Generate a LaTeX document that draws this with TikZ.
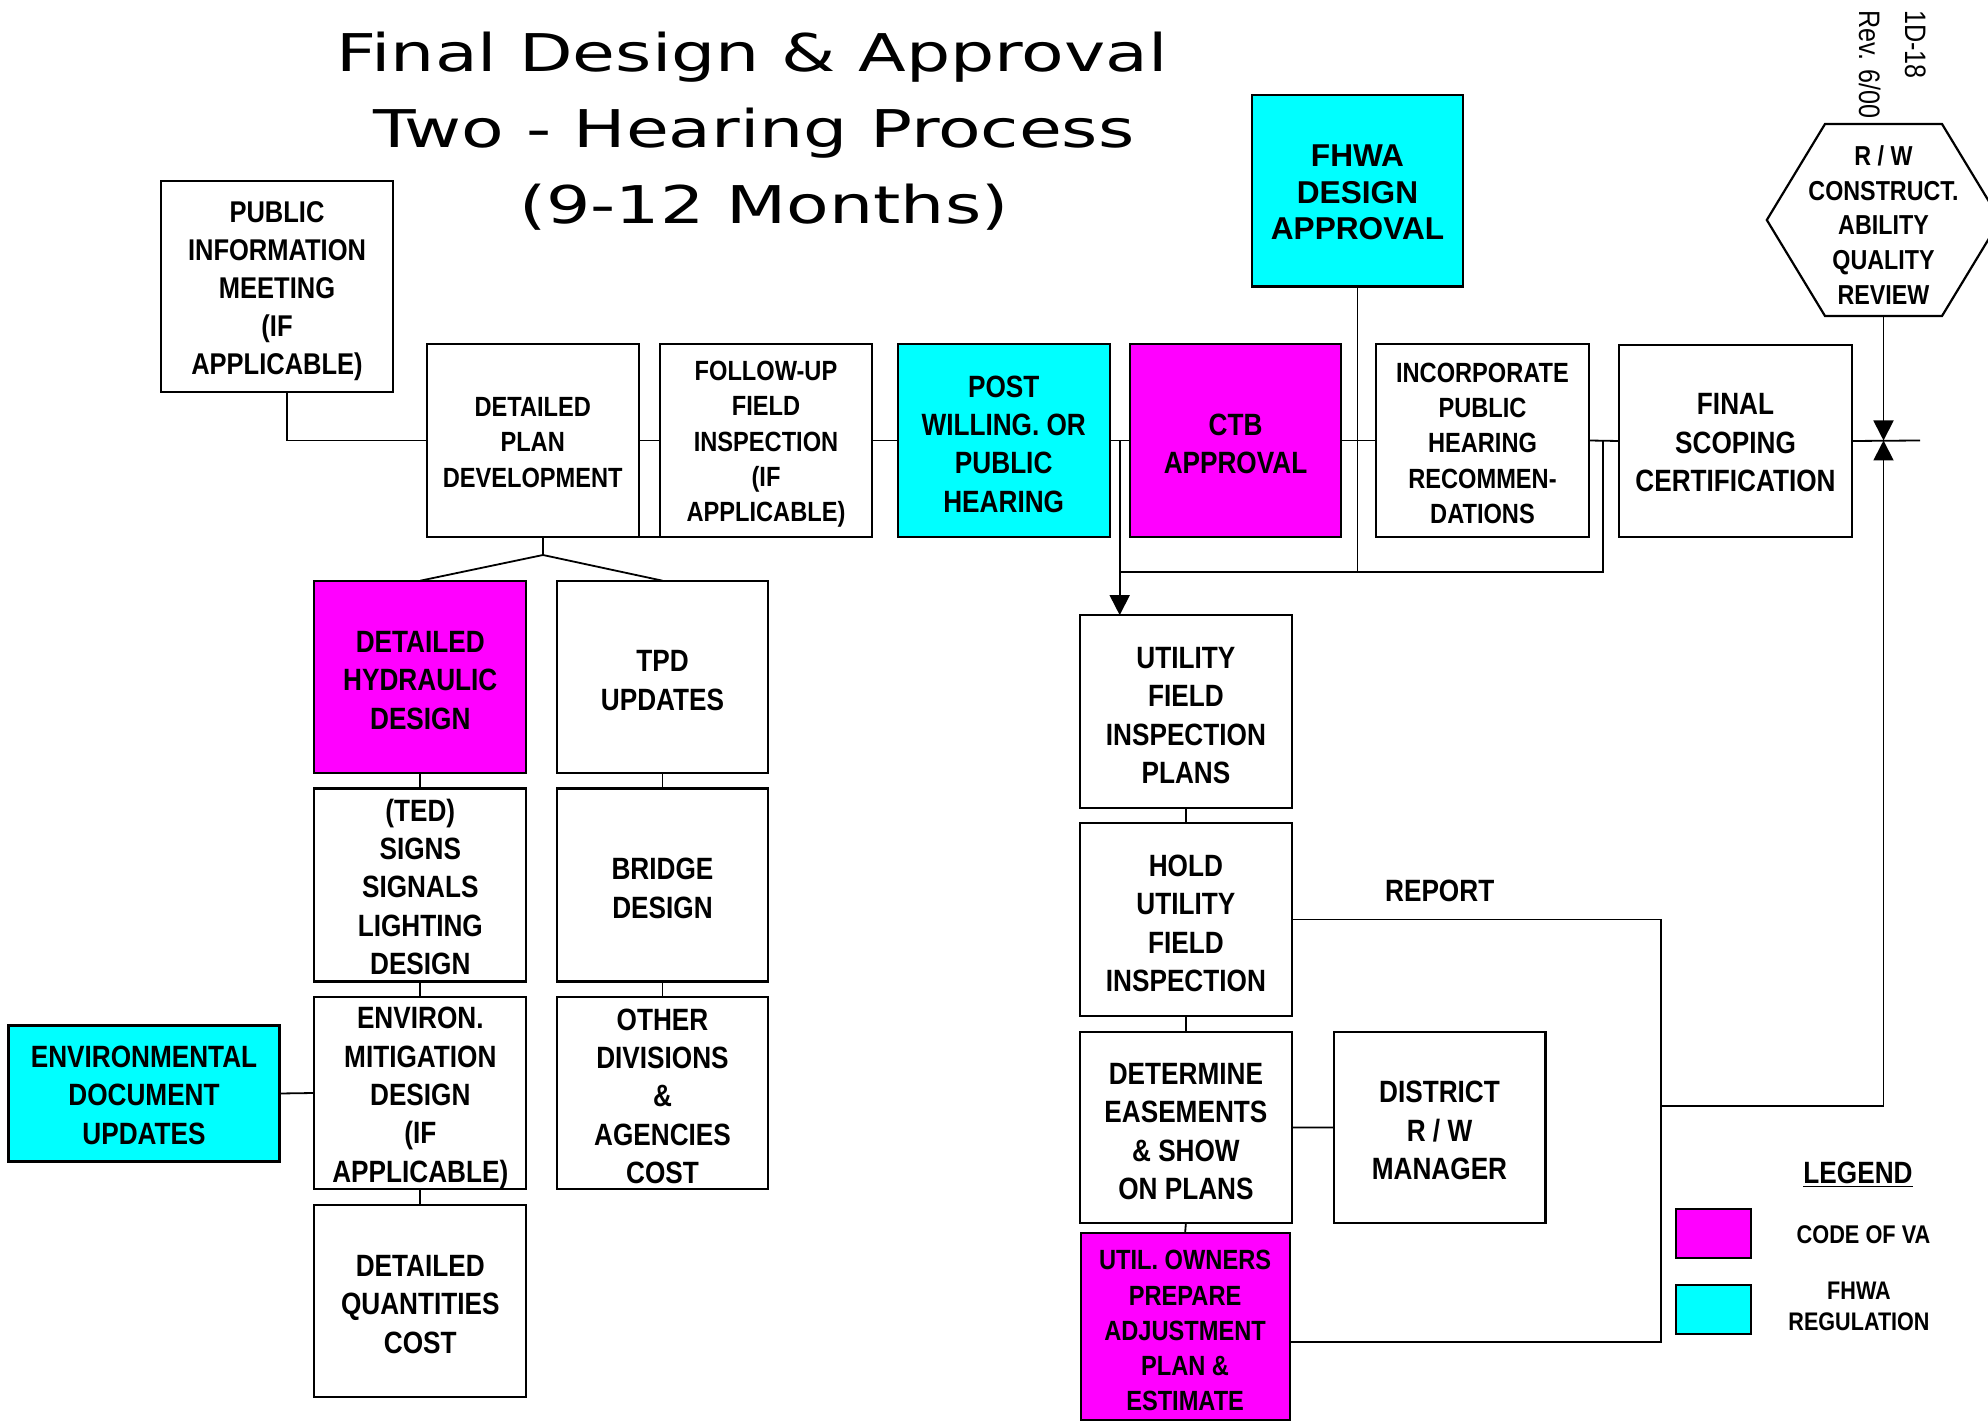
\documentclass[tikz,border=0pt]{standalone}
\usepackage{fontspec}
\setmainfont{Liberation Sans}
\newfontfamily\boxfont{Liberation Sans}[FakeStretch=0.85]
\newfontfamily\widefont{Liberation Sans}
\newfontfamily\titlefont{DejaVu Sans}[FakeStretch=1.34]
\usetikzlibrary{arrows.meta,calc}
\definecolor{vamag}{RGB}{255,0,255}
\definecolor{fhcyan}{RGB}{0,255,255}
% invisible strut that gives the first line of a box some extra height
\newcommand\hl[1]{\rule{0pt}{#1}}

\tikzset{
  bigtext/.style={font=\boxfont\bfseries\fontsize{15.4}{19.2}\selectfont},
  smalltext/.style={font=\boxfont\bfseries\fontsize{13.9}{17.6}\selectfont},
  box/.style={draw, line width=1.1pt, minimum width=106pt, minimum height=96.5pt,
    align=center, inner sep=0pt, outer sep=0pt, bigtext},
  smallbox/.style={box, smalltext},
  va/.style={fill=vamag},
  fh/.style={fill=fhcyan},
  link/.style={line width=0.9pt},
  arr/.style={link, -{Triangle[length=10pt,width=10pt]}},
  titleline/.style={anchor=base, inner sep=0pt, font=\titlefont\fontsize{26}{38}\selectfont},
  sidenote/.style={anchor=base west, rotate=-90, inner sep=0pt, font=\boxfont\fontsize{14.8}{17}\selectfont},
}

\begin{document}
\begin{tikzpicture}[x=0.5pt,y=-0.5pt]
\useasboundingbox (0,0) rectangle (1988,1422);

% title
\node[titleline] (title1) at (752,71.7) {Final Design \& Approval};
\node[titleline] (title2) at (754,148) {Two - Hearing Process};
\node[titleline] (title3) at (764,224) {(9-12 Months)};

% document number, written downwards
\node[sidenote] (docno) at (1905,10) {1D-18};
\node[sidenote] (docrev) at (1859,10) {Rev. 6/00};

% main row
\node[box, minimum width=116pt, minimum height=105.5pt, font=\boxfont\bfseries\fontsize{15}{19}\selectfont]
  (pim) at (277,286.5) {\hl{15.5pt}PUBLIC\\INFORMATION\\MEETING\\(IF\\APPLICABLE)};
\node[smallbox] (dpd) at (532.7,440.5) {\hl{11.5pt}DETAILED\\PLAN\\DEVELOPMENT};
\node[smallbox] (fu) at (766,440.5) {\hl{13.5pt}FOLLOW-UP\\FIELD\\INSPECTION\\(IF\\APPLICABLE)};
\node[box, fh] (post) at (1003.7,440.5) {\hl{14.4pt}POST\\WILLING. OR\\PUBLIC\\HEARING};
\node[box, va, minimum width=105.8pt] (ctb) at (1235.5,440.5) {\hl{14.4pt}CTB\\APPROVAL};
\node[smallbox, minimum width=106.5pt] (inc) at (1482.5,440.5) {\hl{12.5pt}INCORPORATE\\PUBLIC\\HEARING\\RECOMMEN-\\DATIONS};
\node[box, minimum width=116.5pt, minimum height=96pt] (fsc) at (1735.5,441) {\hl{12.5pt}FINAL\\SCOPING\\CERTIFICATION};
\node[box, fh, minimum width=105.8pt, minimum height=95.8pt, font=\widefont\bfseries\fontsize{15.8}{18.3}\selectfont]
  (fhwa) at (1357.5,190.8) {\hl{12.5pt}FHWA\\DESIGN\\APPROVAL};

% review hexagon: the outline is traced round an empty frame node
\node[inner sep=0pt, outer sep=0pt, minimum width=116.7pt, minimum height=96pt] (hex) at (1883.5,220) {};
\draw[line width=1.1pt] ($(hex.north)+(-58.5,0)$) -- ($(hex.north)+(58.5,0)$) -- (hex.east)
  -- ($(hex.south)+(58.5,0)$) -- ($(hex.south)+(-58.5,0)$) -- (hex.west) -- cycle;
\node[align=center, inner sep=0pt, font=\boxfont\bfseries\fontsize{13.7}{17.4}\selectfont]
  (hextext) at (1883.5,225) {R / W\\CONSTRUCT.\\ABILITY\\QUALITY\\REVIEW};

% design branch
\node[box, va, minimum height=96.3pt] (hyd) at (420.3,677) {\hl{14pt}DETAILED\\HYDRAULIC\\DESIGN};
\node[box, minimum height=96.4pt] (ted) at (420.3,885) {\hl{13pt}(TED)\\SIGNS\\SIGNALS\\LIGHTING\\DESIGN};
\node[box, minimum height=96pt] (mit) at (420.3,1093) {\hl{15.6pt}ENVIRON.\\MITIGATION\\DESIGN\\(IF\\APPLICABLE)};
\node[box, minimum height=96pt] (qty) at (420.3,1301) {\hl{14pt}DETAILED\\QUANTITIES\\COST};
\node[box, minimum width=105.8pt, minimum height=96.3pt] (tpd) at (662.5,677) {\hl{14pt}TPD\\UPDATES};
\node[box, minimum width=105.8pt, minimum height=96.4pt] (brd) at (662.5,885) {\hl{14pt}BRIDGE\\DESIGN};
\node[box, minimum width=105.8pt, minimum height=96pt] (oth) at (662.5,1093) {\hl{14pt}OTHER\\DIVISIONS\\\&\\AGENCIES\\COST};
\node[box, fh, minimum width=135.5pt, minimum height=68pt] (env) at (144,1093.5) {\hl{12.5pt}ENVIRONMENTAL\\DOCUMENT\\UPDATES};

% utility branch
\node[box, minimum width=105.8pt, minimum height=96.3pt] (uti) at (1185.9,711.4) {\hl{14.8pt}UTILITY\\FIELD\\INSPECTION\\PLANS};
\node[box, minimum width=105.8pt, minimum height=96.2pt] (hold) at (1185.9,919.5) {\hl{14.8pt}HOLD\\UTILITY\\FIELD\\INSPECTION};
\node[box, minimum width=105.8pt, minimum height=95.8pt] (det) at (1185.9,1127.5) {\hl{14.8pt}DETERMINE\\EASEMENTS\\\& SHOW\\ON PLANS};
\node[smallbox, va, minimum width=104.5pt, minimum height=93.6pt] (own) at (1185.1,1326.4) {\hl{14pt}UTIL. OWNERS\\PREPARE\\ADJUSTMENT\\PLAN \&\\ESTIMATE};
\node[box, minimum width=105.9pt, minimum height=95.6pt] (dis) at (1439.5,1127.4) {\hl{14pt}DISTRICT\\R / W\\MANAGER};
\node[bigtext, inner sep=0pt] (rptlabel) at (1439.7,891) {REPORT};

% legend
\node[bigtext, inner sep=0pt] (leg) at (1858,1175) {\underline{LEGEND}};
\node[draw, line width=1.1pt, va, minimum width=37.7pt, minimum height=24.2pt, inner sep=0pt] (swm) at (1713.5,1233.5) {};
\node[draw, line width=1.1pt, fh, minimum width=37.7pt, minimum height=24.2pt, inner sep=0pt] (swc) at (1713.5,1309.5) {};
\node[inner sep=0pt, font=\boxfont\bfseries\fontsize{12.8}{12.5}\selectfont] (legm) at (1863.5,1235) {CODE OF VA};
\node[inner sep=0pt, align=center, font=\boxfont\bfseries\fontsize{12.7}{15.5}\selectfont] (legc) at (1859,1306) {FHWA\\REGULATION};

% junction points of the connectors
\coordinate (pimj) at (286.7,440.5);
\coordinate (split) at (543,555);
\coordinate (tap) at (1119.7,440.5);
\coordinate (busL) at (1119.7,572.3);
\coordinate (busR) at (1603,572.3);
\coordinate (tap2) at (1603,440.5);
\coordinate (rpt) at (1661,919.5);
\coordinate (jn) at (1661,1105.6);
\coordinate (rb) at (1661,1341.7);
\coordinate (up) at (1883.5,1105.6);
\coordinate (meet) at (1883.5,440.5);
\coordinate (tail) at (1920,440.5);

% main row connectors
\draw[link] (pimj |- pim.south) -- (pimj) -- (dpd.west);
\draw[link] (dpd.east) -- (fu.west);
\draw[link] (dpd.south east) -- (fu.south west);
\draw[link] (fu.east) -- (post.west);
\draw[link] (post.east) -- (ctb.west);
\draw[link] (ctb.east) -- (inc.west);
\draw[link] (inc.east) -- (fsc.west);
\draw[link] (fsc.east) -- (tail);
\draw[link] (tap) -- (busL) -- (busR) -- (tap2);
\draw[link] (fhwa.south) -- (fhwa.south |- busR);
\draw[arr] (busL) -- (busL |- uti.north);
\draw[arr] (hex.south) -- (meet);
\draw[arr] (up) -- (meet);

% design branch connectors
\draw[link] (dpd.south -| split) -- (split);
\draw[link] (split) -- (hyd.north);
\draw[link] (split) -- (tpd.north);
\draw[link] (hyd.south) -- (ted.north);
\draw[link] (ted.south) -- (mit.north);
\draw[link] (mit.south) -- (qty.north);
\draw[link] (tpd.south) -- (brd.north);
\draw[link] (brd.south) -- (oth.north);
\draw[link] (env.east) -- (mit.west);

% utility branch connectors
\draw[link] (uti.south) -- (hold.north);
\draw[link] (hold.south) -- (det.north);
\draw[link] (det.south) -- (own.north);
\draw[link] (det.east) -- (dis.west);
\draw[link] (hold.east) -- (rpt) -- (rb) -- (rb -| own.east);
\draw[link] (jn) -- (up);

\end{tikzpicture}
\end{document}
